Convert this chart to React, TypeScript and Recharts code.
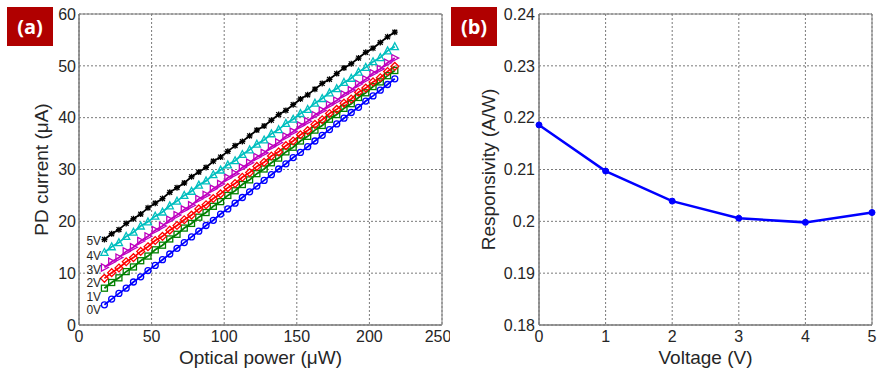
import React from 'react';
import { LineChart, Line, XAxis, YAxis, CartesianGrid, ReferenceDot, ReferenceArea, Label } from 'recharts';

const powerUW = [17.5, 22.5, 27.5, 32.5, 37.5, 42.5, 47.5, 52.5, 57.5, 62.5, 67.5, 72.5, 77.5, 82.5, 87.5, 92.5, 97.5, 102.5, 107.5, 112.5, 117.5, 122.5, 127.5, 132.5, 137.5, 142.5, 147.5, 152.5, 157.5, 162.5, 167.5, 172.5, 177.5, 182.5, 187.5, 192.5, 197.5, 202.5, 207.5, 212.5, 217.5];
const current0V = [3.9, 5.0, 6.1, 7.1, 8.3, 9.3, 10.5, 11.5, 12.6, 13.7, 14.8, 15.9, 17.0, 18.1, 19.2, 20.2, 21.4, 22.4, 23.5, 24.6, 25.7, 26.8, 27.9, 29.0, 30.1, 31.1, 32.3, 33.3, 34.4, 35.5, 36.6, 37.7, 38.8, 39.9, 41.0, 42.0, 43.2, 44.2, 45.3, 46.4, 47.5];
const current1V = [7.1, 8.2, 9.1, 10.3, 11.2, 12.4, 13.3, 14.5, 15.4, 16.6, 17.5, 18.7, 19.6, 20.8, 21.7, 22.9, 23.8, 25.0, 25.9, 27.1, 28.0, 29.2, 30.1, 31.3, 32.2, 33.4, 34.3, 35.5, 36.4, 37.6, 38.5, 39.7, 40.6, 41.8, 42.7, 43.9, 44.8, 46.0, 46.9, 48.1, 49.1];
const current2V = [9.0, 10.1, 11.0, 12.2, 13.0, 14.2, 15.1, 16.3, 17.1, 18.3, 19.2, 20.3, 21.2, 22.4, 23.2, 24.4, 25.3, 26.5, 27.3, 28.5, 29.4, 30.6, 31.4, 32.6, 33.4, 34.6, 35.5, 36.7, 37.5, 38.7, 39.6, 40.8, 41.6, 42.8, 43.6, 44.9, 45.7, 46.9, 47.7, 48.9, 49.9];
const current3V = [11.1, 12.2, 13.0, 14.2, 15.0, 16.2, 17.1, 18.3, 19.1, 20.3, 21.2, 22.3, 23.1, 24.3, 25.1, 26.3, 27.2, 28.4, 29.2, 30.4, 31.3, 32.4, 33.2, 34.4, 35.2, 36.4, 37.3, 38.5, 39.3, 40.5, 41.4, 42.5, 43.3, 44.5, 45.3, 46.5, 47.4, 48.6, 49.4, 50.6, 51.5];
const current4V = [14.0, 15.1, 15.9, 17.1, 17.9, 19.1, 19.9, 21.0, 21.8, 23.0, 23.9, 25.0, 25.8, 27.0, 27.8, 29.0, 29.9, 30.9, 31.7, 32.9, 33.8, 34.9, 35.7, 36.9, 37.7, 38.9, 39.7, 40.8, 41.6, 42.8, 43.7, 44.8, 45.6, 46.8, 47.6, 48.8, 49.7, 50.8, 51.6, 52.9, 53.7];
const current5V = [16.5, 17.6, 18.4, 19.6, 20.5, 21.4, 22.6, 23.5, 24.4, 25.6, 26.5, 27.4, 28.6, 29.5, 30.4, 31.6, 32.4, 33.5, 34.6, 35.4, 36.5, 37.6, 38.4, 39.5, 40.6, 41.4, 42.5, 43.6, 44.4, 45.5, 46.6, 47.4, 48.5, 49.6, 50.4, 51.5, 52.6, 53.4, 54.5, 55.6, 56.5];

const voltageLabels = ['0V', '1V', '2V', '3V', '4V', '5V'];
const voltageLabelY = [3.0, 5.4, 8.2, 10.7, 13.3, 16.2];

const powerTicks = [0, 50, 100, 150, 200, 250];
const currentTicks = [0, 10, 20, 30, 40, 50, 60];

const voltageV = [0, 1, 2, 3, 4, 5];
const responsivity = [0.2186, 0.2097, 0.2039, 0.2006, 0.1998, 0.2017];
const voltTicks = [0, 1, 2, 3, 4, 5];
const respTicks = [0.18, 0.19, 0.2, 0.21, 0.22, 0.23, 0.24];

const seriesDefs = [
  { key: 'v0', values: current0V, color: '#0000ff', marker: 'circle' },
  { key: 'v1', values: current1V, color: '#008000', marker: 'square' },
  { key: 'v2', values: current2V, color: '#ff0000', marker: 'diamond' },
  { key: 'v3', values: current3V, color: '#bf00bf', marker: 'triRight' },
  { key: 'v4', values: current4V, color: '#00bfbf', marker: 'triUp' },
  { key: 'v5', values: current5V, color: '#000000', marker: 'star' },
];

const leftData = powerUW.map((p, i) => {
  const row: any = { p };
  seriesDefs.forEach((s) => { row[s.key] = s.values[i]; });
  return row;
});

const rightData = voltageV.map((v, i) => ({ v, r: responsivity[i] }));

const FONT = '"Liberation Sans", Arial, sans-serif';
const TXT = '#262626';
const AXIS = '#7a7a7a';

function makeDot(kind: string, color: string) {
  return (props: any) => {
    const { cx, cy, index } = props;
    if (cx == null || cy == null) return <g key={index} />;
    const s = 3;
    const common = { fill: 'none', stroke: color, strokeWidth: 1.3 };
    switch (kind) {
      case 'circle':
        return <circle key={index} cx={cx} cy={cy} r={s} {...common} />;
      case 'square':
        return <rect key={index} x={cx - s} y={cy - s} width={2 * s} height={2 * s} {...common} />;
      case 'diamond':
        return <polygon key={index} points={`${cx},${cy - s * 1.3} ${cx + s * 1.3},${cy} ${cx},${cy + s * 1.3} ${cx - s * 1.3},${cy}`} {...common} />;
      case 'triRight':
        return <polygon key={index} points={`${cx + s * 1.3},${cy} ${cx - s},${cy - s * 1.2} ${cx - s},${cy + s * 1.2}`} {...common} />;
      case 'triUp':
        return <polygon key={index} points={`${cx},${cy - s * 1.3} ${cx + s * 1.2},${cy + s} ${cx - s * 1.2},${cy + s}`} {...common} />;
      default: {
        const d = s * 0.8;
        return (
          <path
            key={index}
            d={`M${cx - s},${cy}L${cx + s},${cy}M${cx},${cy - s}L${cx},${cy + s}M${cx - d},${cy - d}L${cx + d},${cy + d}M${cx - d},${cy + d}L${cx + d},${cy - d}`}
            stroke={color}
            strokeWidth={1.3}
            fill="none"
          />
        );
      }
    }
  };
}

const tagStyle: React.CSSProperties = {
  position: 'absolute',
  top: 7,
  width: 46,
  height: 39,
  background: '#b00000',
  color: '#ffffff',
  fontFamily: '"Open Sans", "Noto Sans", sans-serif',
  fontWeight: 700,
  fontSize: 20,
  display: 'flex',
  alignItems: 'center',
  justifyContent: 'center',
};

export default function App() {
  return (
    <div style={{ position: 'absolute', left: 0, top: 0, width: 878, height: 369, background: '#fff', overflow: 'hidden' }}>
      <div style={{ position: 'absolute', left: 0, top: 0 }}>
        <LineChart width={450} height={369} data={leftData} margin={{ top: 14, right: 8, left: 0, bottom: 0 }}>
          <CartesianGrid stroke="#7a7a7a" strokeDasharray="2 2" />
          <ReferenceArea x1={0} x2={250} y1={0} y2={60} fill="none" stroke={AXIS} strokeWidth={1} />
          <XAxis
            dataKey="p"
            type="number"
            domain={[0, 250]}
            ticks={powerTicks}
            height={44}
            tickLine={false}
            axisLine={{ stroke: AXIS }}
            tick={{ fill: TXT, fontSize: 16, fontFamily: FONT }}
            tickSize={5}
            tickMargin={1}
          >
            <Label value="Optical power (μW)" position="insideBottom" offset={5} style={{ fill: TXT, fontSize: 19, fontFamily: FONT }} />
          </XAxis>
          <YAxis
            type="number"
            domain={[0, 60]}
            ticks={currentTicks}
            width={79}
            tickLine={false}
            axisLine={{ stroke: AXIS }}
            tick={{ fill: TXT, fontSize: 16, fontFamily: FONT }}
            tickSize={1}
            tickMargin={2}
          >
            <Label value="PD current (μA)" angle={-90} position="center" dx={2} style={{ fill: TXT, fontSize: 19, fontFamily: FONT, textAnchor: 'middle' }} />
          </YAxis>
          {seriesDefs.map((s) => (
            <Line
              key={s.key}
              dataKey={s.key}
              stroke={s.color}
              strokeWidth={1.8}
              dot={makeDot(s.marker, s.color)}
              activeDot={false}
              isAnimationActive={false}
            />
          ))}
          {voltageLabels.map((lab, i) => (
            <ReferenceDot
              key={lab}
              x={18}
              y={voltageLabelY[i]}
              r={1}
              fill="none"
              stroke="none"
              label={{ value: lab, position: 'left', offset: 3, fill: TXT, fontSize: 12, fontFamily: FONT }}
            />
          ))}
        </LineChart>
      </div>
      <div style={{ position: 'absolute', left: 450, top: 0 }}>
        <LineChart width={428} height={369} data={rightData} margin={{ top: 14, right: 6, left: 0, bottom: 0 }}>
          <CartesianGrid stroke="#7a7a7a" strokeDasharray="2 2" />
          <ReferenceArea x1={0} x2={5} y1={0.18} y2={0.24} fill="none" stroke={AXIS} strokeWidth={1} />
          <XAxis
            dataKey="v"
            type="number"
            domain={[0, 5]}
            ticks={voltTicks}
            height={44}
            tickLine={false}
            axisLine={{ stroke: AXIS }}
            tick={{ fill: TXT, fontSize: 16, fontFamily: FONT }}
            tickSize={5}
            tickMargin={1}
          >
            <Label value="Voltage (V)" position="insideBottom" offset={5} style={{ fill: TXT, fontSize: 19, fontFamily: FONT }} />
          </XAxis>
          <YAxis
            type="number"
            domain={[0.18, 0.24]}
            ticks={respTicks}
            width={89}
            tickLine={false}
            axisLine={{ stroke: AXIS }}
            tick={{ fill: TXT, fontSize: 16, fontFamily: FONT }}
            tickSize={1}
            tickMargin={3}
          >
            <Label value="Responsivity (A/W)" angle={-90} position="center" dx={-6} style={{ fill: TXT, fontSize: 19, fontFamily: FONT, textAnchor: 'middle' }} />
          </YAxis>
          <Line
            dataKey="r"
            stroke="#0000ff"
            strokeWidth={2.5}
            dot={{ r: 3, fill: '#0000ff', stroke: '#0000ff', strokeWidth: 1 }}
            activeDot={false}
            isAnimationActive={false}
          />
        </LineChart>
      </div>
      <div style={{ ...tagStyle, left: 7 }}>(a)</div>
      <div style={{ ...tagStyle, left: 451 }}>(b)</div>
    </div>
  );
}
